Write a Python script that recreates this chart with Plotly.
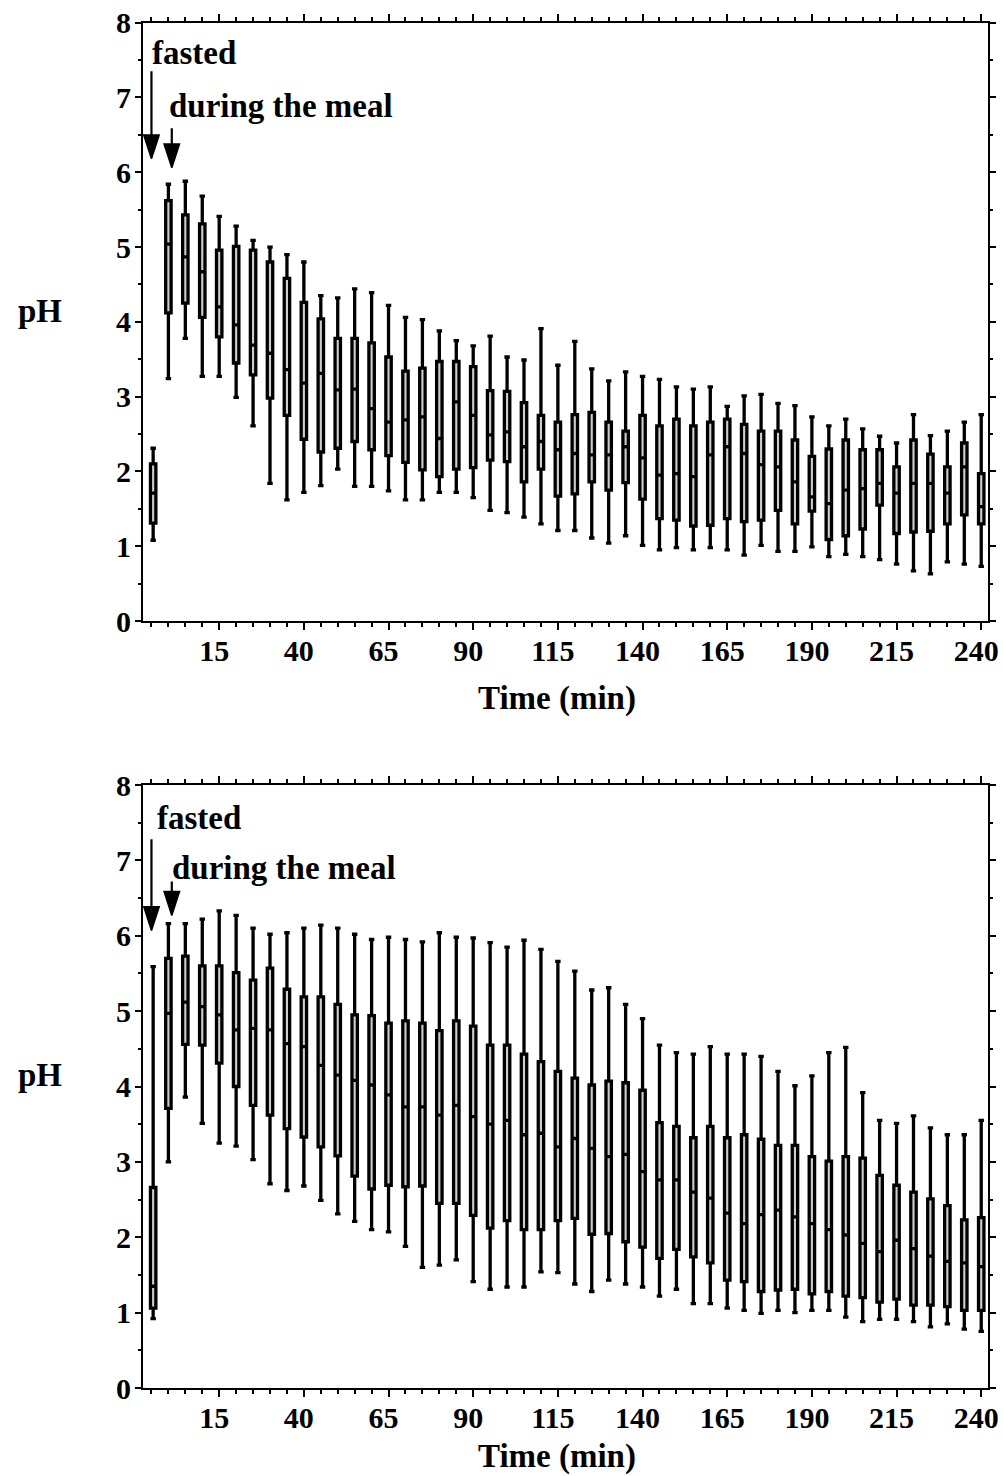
import plotly.graph_objects as go

# ---------------- data ----------------
# time points (min); first entry is the fasted measurement (plotted just left of t=0)
times = [-4.5, 0, 5, 10, 15, 20, 25, 30, 35, 40, 45, 50, 55, 60, 65, 70, 75, 80, 85, 90,
         95, 100, 105, 110, 115, 120, 125, 130, 135, 140, 145, 150, 155, 160, 165, 170,
         175, 180, 185, 190, 195, 200, 205, 210, 215, 220, 225, 230, 235, 240]

# Top panel
top_max = [2.31, 5.84, 5.88, 5.68, 5.41, 5.28, 5.09, 5.00, 4.90, 4.80, 4.35, 4.32, 4.44, 4.39,
           4.22, 4.06, 4.03, 3.88, 3.75, 3.68, 3.81, 3.53, 3.49, 3.91, 3.42, 3.74, 3.37, 3.21,
           3.33, 3.27, 3.23, 3.13, 3.10, 3.13, 2.87, 3.01, 3.03, 2.91, 2.88, 2.73, 2.61, 2.70,
           2.57, 2.47, 2.38, 2.76, 2.48, 2.54, 2.66, 2.76]
top_q3 = [2.10, 5.62, 5.43, 5.31, 4.96, 5.01, 4.96, 4.80, 4.58, 4.26, 4.04, 3.78, 3.78, 3.72,
          3.53, 3.34, 3.38, 3.47, 3.47, 3.40, 3.08, 3.07, 2.92, 2.75, 2.66, 2.76, 2.79, 2.66,
          2.54, 2.75, 2.61, 2.70, 2.61, 2.66, 2.70, 2.63, 2.54, 2.54, 2.42, 2.20, 2.30, 2.42,
          2.29, 2.29, 2.06, 2.42, 2.23, 2.06, 2.38, 1.97]
top_med = [1.71, 5.04, 4.87, 4.67, 4.20, 3.96, 3.69, 3.58, 3.36, 3.18, 3.31, 3.09, 3.10, 2.84,
           2.66, 2.69, 2.73, 2.44, 2.93, 2.75, 2.49, 2.53, 2.33, 2.40, 2.29, 2.24, 2.22, 2.22,
           2.33, 2.18, 1.95, 1.97, 1.93, 2.22, 2.33, 2.24, 2.09, 2.06, 1.86, 1.66, 1.57, 1.75,
           1.77, 1.84, 1.71, 1.84, 1.84, 1.71, 2.06, 1.53]
top_q1 = [1.31, 4.12, 4.25, 4.06, 3.80, 3.45, 3.29, 2.98, 2.75, 2.43, 2.26, 2.31, 2.40, 2.29,
          2.21, 2.12, 2.02, 1.93, 2.03, 2.05, 2.15, 2.13, 1.86, 2.03, 1.67, 1.70, 1.86, 1.75,
          1.85, 1.63, 1.37, 1.35, 1.27, 1.28, 1.37, 1.33, 1.35, 1.48, 1.30, 1.47, 1.09, 1.14,
          1.23, 1.55, 1.17, 1.19, 1.20, 1.30, 1.42, 1.30]
top_min = [1.08, 3.24, 3.78, 3.27, 3.27, 2.99, 2.61, 1.84, 1.62, 1.72, 1.81, 2.03, 1.80, 1.80,
           1.74, 1.62, 1.62, 1.72, 1.72, 1.65, 1.48, 1.45, 1.39, 1.30, 1.21, 1.21, 1.11, 1.04,
           1.14, 1.01, 0.95, 0.98, 0.95, 0.98, 0.95, 0.88, 1.01, 0.93, 0.93, 0.99, 0.86, 0.89,
           0.86, 0.82, 0.76, 0.67, 0.63, 0.79, 0.76, 0.73]

# Bottom panel
bot_max = [5.59, 6.16, 6.16, 6.22, 6.33, 6.27, 6.10, 6.02, 6.04, 6.10, 6.14, 6.10, 6.02, 5.95,
           5.98, 5.95, 5.92, 6.04, 5.98, 5.97, 5.91, 5.85, 5.94, 5.82, 5.66, 5.53, 5.28, 5.31,
           5.09, 4.90, 4.55, 4.45, 4.43, 4.53, 4.43, 4.43, 4.40, 4.20, 4.01, 4.14, 4.45, 4.52,
           3.92, 3.55, 3.51, 3.61, 3.45, 3.36, 3.36, 3.55]
bot_q3 = [2.66, 5.70, 5.73, 5.60, 5.60, 5.51, 5.41, 5.57, 5.29, 5.19, 5.19, 5.09, 4.95, 4.94,
          4.84, 4.87, 4.84, 4.74, 4.87, 4.80, 4.55, 4.55, 4.43, 4.33, 4.20, 4.11, 4.02, 4.07,
          4.05, 3.95, 3.52, 3.47, 3.32, 3.47, 3.32, 3.36, 3.30, 3.22, 3.22, 3.07, 3.01, 3.07,
          3.05, 2.82, 2.69, 2.60, 2.51, 2.42, 2.23, 2.26]
bot_med = [1.35, 4.97, 5.12, 5.06, 4.95, 4.75, 4.77, 4.75, 4.57, 4.53, 4.28, 4.15, 4.08, 4.02,
           3.89, 3.73, 3.73, 3.62, 3.75, 3.60, 3.50, 3.55, 3.36, 3.38, 3.20, 3.31, 3.18, 3.07,
           3.10, 2.87, 2.76, 2.76, 2.60, 2.52, 2.32, 2.18, 2.30, 2.36, 2.27, 2.18, 2.10, 2.03,
           1.92, 1.81, 1.96, 1.85, 1.75, 1.68, 1.66, 1.61]
bot_q1 = [1.06, 3.71, 4.56, 4.55, 4.31, 4.00, 3.75, 3.62, 3.44, 3.33, 3.20, 3.08, 2.81, 2.64,
          2.69, 2.67, 2.68, 2.45, 2.45, 2.29, 2.12, 2.22, 2.10, 2.10, 2.22, 2.25, 2.04, 2.05,
          1.94, 1.87, 1.72, 1.84, 1.74, 1.66, 1.43, 1.41, 1.28, 1.30, 1.31, 1.25, 1.28, 1.22,
          1.20, 1.14, 1.18, 1.10, 1.10, 1.08, 1.03, 1.03]
bot_min = [0.92, 3.00, 3.86, 3.51, 3.25, 3.21, 3.03, 2.71, 2.62, 2.68, 2.49, 2.31, 2.21, 2.10,
           2.07, 1.88, 1.60, 1.63, 1.70, 1.41, 1.31, 1.34, 1.34, 1.54, 1.53, 1.38, 1.28, 1.43,
           1.38, 1.34, 1.22, 1.31, 1.12, 1.12, 1.06, 1.03, 0.99, 1.03, 1.00, 1.03, 1.03, 0.94,
           0.88, 0.91, 0.91, 0.88, 0.81, 0.85, 0.78, 0.75]

x_ticks = [15, 40, 65, 90, 115, 140, 165, 190, 215, 240]
y_ticks = [0, 1, 2, 3, 4, 5, 6, 7, 8]

# arrow annotations: (x, shaft top, tip) in data units
top_arrows = [(-5, 7.35, 6.18), (1, 6.59, 6.06)]
bot_arrows = [(-5, 7.28, 6.07), (1, 6.72, 6.27)]

# ---------------- figure ----------------
W, H = 1003, 1476


def px(x):
    return x / W


def py(y):
    return 1 - y / H


FONT = dict(family="Liberation Serif", size=30, color="black", weight="bold")

fig = go.Figure()

panels = [
    ("x", "y", top_max, top_q3, top_med, top_q1, top_min, top_arrows),
    ("x2", "y2", bot_max, bot_q3, bot_med, bot_q1, bot_min, bot_arrows),
]
for xa, ya, mx, q3, md, q1, mn, arrows in panels:
    fig.add_trace(go.Box(
        x=times, q1=q1, median=md, q3=q3, lowerfence=mn, upperfence=mx,
        width=1.6, whiskerwidth=1, boxpoints=False,
        line=dict(color="black", width=3.3), fillcolor="#cdcdcd",
        xaxis=xa, yaxis=ya, showlegend=False, hoverinfo="skip"))
    for ax_x, y_top, y_tip in arrows:
        fig.add_trace(go.Scatter(
            x=[ax_x, ax_x], y=[y_top, y_tip + 0.15], mode="lines",
            line=dict(color="black", width=2.2), xaxis=xa, yaxis=ya,
            showlegend=False, hoverinfo="skip"))
        fig.add_trace(go.Scatter(
            x=[ax_x], y=[y_tip], mode="markers",
            marker=dict(symbol="arrow", angle=180, size=25, color="black",
                        line=dict(color="black", width=1.5)),
            xaxis=xa, yaxis=ya, showlegend=False, hoverinfo="skip"))

x_dom = [px(143), px(988)]
common_x = dict(
    range=[-7.5, 242], tickmode="array", tickvals=x_ticks,
    ticks="outside", ticklen=7, tickwidth=2, tickcolor="black",
    showline=True, linewidth=2, linecolor="black", mirror="allticks",
    minor=dict(tickmode="linear", tick0=0, dtick=5, ticks="outside", ticklen=4,
               tickwidth=1.5, tickcolor="black"),
    showgrid=False, zeroline=False, tickfont=FONT, automargin=False, domain=x_dom,
    ticklabelstandoff=-5, ticklabelshift=-5, ticklabeloverflow="allow")
common_y = dict(
    range=[0, 8], tickmode="array", tickvals=y_ticks,
    ticks="outside", ticklen=6, tickwidth=2, tickcolor="black",
    showline=True, linewidth=2, linecolor="black", mirror="allticks",
    minor=dict(tickmode="linear", tick0=0, dtick=0.5, ticks="outside", ticklen=3,
               tickwidth=1.5, tickcolor="black"),
    showgrid=False, zeroline=False, tickfont=FONT, automargin=False,
    ticklabelstandoff=-2, ticklabeloverflow="allow")

fig.update_layout(
    width=W, height=H, margin=dict(l=0, r=0, t=0, b=0),
    paper_bgcolor="white", plot_bgcolor="white",
    xaxis=dict(common_x, anchor="y"),
    yaxis=dict(common_y, anchor="x", domain=[py(621), py(22.7)]),
    xaxis2=dict(common_x, anchor="y2"),
    yaxis2=dict(common_y, anchor="x2", domain=[py(1388), py(785)]),
)

ann_font = dict(family="Liberation Serif", size=33, color="black", weight="bold")
anns = [
    dict(text="pH", x=px(40), xref="paper", y=4.15, yref="y", xanchor="center", yanchor="middle"),
    dict(text="pH", x=px(40), xref="paper", y=4.15, yref="y2", xanchor="center", yanchor="middle"),
    dict(text="Time (min)", x=px(557), xref="paper", y=py(698), yref="paper",
         xanchor="center", yanchor="middle"),
    dict(text="Time (min)", x=px(557), xref="paper", y=py(1456), yref="paper",
         xanchor="center", yanchor="middle"),
    dict(text="fasted", x=px(150), xref="paper", y=7.59, yref="y", xanchor="left", yanchor="middle"),
    dict(text="during the meal", x=px(167), xref="paper", y=6.88, yref="y",
         xanchor="left", yanchor="middle"),
    dict(text="fasted", x=px(155), xref="paper", y=7.56, yref="y2", xanchor="left", yanchor="middle"),
    dict(text="during the meal", x=px(170), xref="paper", y=6.90, yref="y2",
         xanchor="left", yanchor="middle"),
]
for a in anns:
    fig.add_annotation(showarrow=False, font=ann_font, **a)

# remove the default 8px body margin so the figure fills the window exactly
fig.write_html("out.html", config={"displayModeBar": False},
               post_script="document.body.style.margin='0';document.body.style.overflow='hidden';")
